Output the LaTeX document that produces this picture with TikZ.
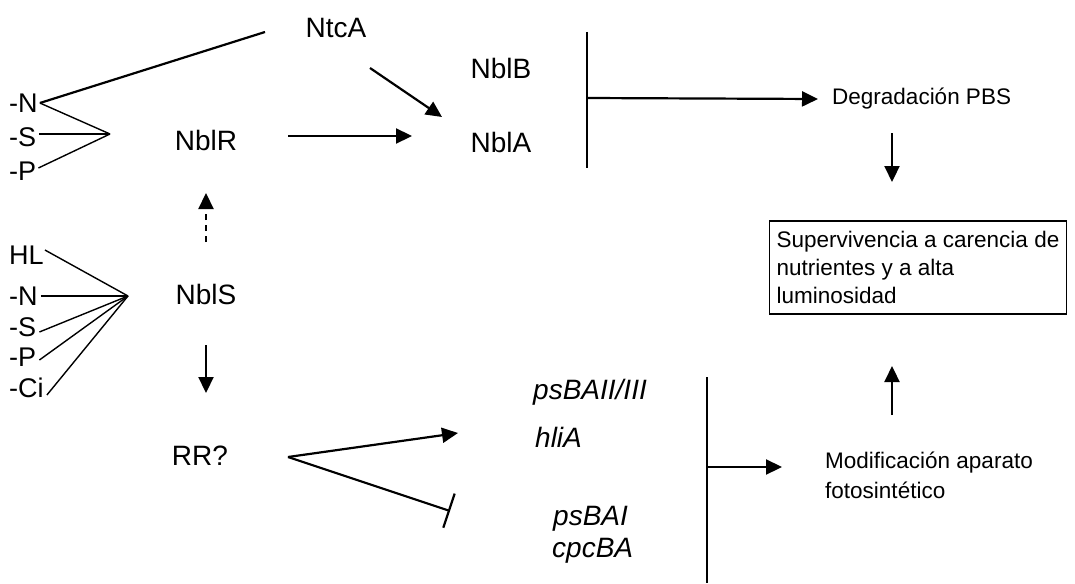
\documentclass[tikz,border=0pt]{standalone}
\usepackage{fontspec}
\setmainfont{Liberation Sans}
\usetikzlibrary{arrows.meta}
\begin{document}
\begin{tikzpicture}[x=1pt,y=-1pt,
  big/.style={font=\fontsize{28}{32}\selectfont, inner sep=0pt},
  side/.style={font=\fontsize{27}{30}\selectfont, inner sep=0pt, anchor=west},
  small/.style={font=\fontsize{22.5}{30}\selectfont, inner sep=0pt, align=left},
  gene/.style={font=\fontsize{28}{32}\selectfont\itshape, inner sep=0pt, anchor=west},
  act/.style={line width=2.2pt, -{Triangle[length=16pt,width=15pt]}},
  block/.style={line width=2.2pt, -{Bar[width=36pt,line width=2.2pt]}},
  fan/.style={line width=1.4pt},
  bus/.style={line width=1.8pt},
  box/.style={draw, line width=1.4pt, minimum width=297pt, minimum height=93pt,
              inner sep=0pt, align=left, font=\fontsize{22.5}{28}\selectfont}]
\useasboundingbox (0,0) rectangle (1075,583);

% main regulators
\node[big] (ntca) at (336,28) {NtcA};
\node[big] (nblr) at (206,140) {NblR};
\node[big] (nbls) at (206,294) {NblS};
\node[big] (rr)   at (200,456) {RR?};
\node[big] (nblb) at (501,68)  {NblB};
\node[big] (nbla) at (501,142) {NblA};

% stress signals acting on NblR / NtcA
\node[side] (n1) at (9,103) {-N};
\node[side] (s1) at (9,137) {-S};
\node[side] (p1) at (9,171) {-P};
\coordinate (v1) at (110,134);
\coordinate (ntcaend) at (265,32);
\draw[line width=2.2pt] ([xshift=2pt]n1.east) -- (ntcaend);
\draw[fan] ([xshift=2pt]n1.east) -- (v1);
\draw[fan] ([xshift=3pt,yshift=3pt]s1.east) -- (v1);
\draw[fan] ([xshift=2pt,yshift=3pt]p1.east) -- (v1);

% stress signals acting on NblS
\node[side] (hl) at (9,255) {HL};
\node[side] (n2) at (9,296) {-N};
\node[side] (s2) at (9,327) {-S};
\node[side] (p2) at (9,357) {-P};
\node[side] (c2) at (9,388) {-Ci};
\coordinate (v2) at (128,296);
\draw[fan] ([xshift=1pt,yshift=5pt]hl.east) -- (v2);
\draw[fan] ([xshift=3pt]n2.east) -- (v2);
\draw[fan] ([xshift=3pt,yshift=-5pt]s2.east) -- (v2);
\draw[fan] ([xshift=3pt,yshift=-3pt]p2.east) -- (v2);
\draw[fan] ([xshift=3pt,yshift=-7pt]c2.east) -- (v2);

% NblS -> NblR (dashed), NblS -> RR?
\coordinate (dsA) at (206,242);
\coordinate (dsB) at (206,193);
\draw[act, dash pattern=on 6pt off 5pt] (dsA) -- (dsB);
\coordinate (rrA) at (206,345);
\coordinate (rrB) at (206,393);
\draw[act] (rrA) -- (rrB);

% activation of nblA
\coordinate (ntA) at (370,68);
\coordinate (ntB) at (442,117);
\draw[act] (ntA) -- (ntB);
\coordinate (nrA) at (288,136);
\coordinate (nrB) at (412,136);
\draw[act] (nrA) -- (nrB);

% NblA/NblB -> phycobilisome degradation
\coordinate (b1top) at (587,32);
\coordinate (b1bot) at (587,168);
\coordinate (b1mid) at (587,98);
\draw[bus] (b1top) -- (b1bot);
\node[small, anchor=west] (deg) at (832,99) {Degradación PBS};
\draw[act] (b1mid) -- ([xshift=-14pt]deg.west);
\coordinate (dgA) at (892,133);
\coordinate (dgB) at (892,182);
\draw[act] (dgA) -- (dgB);

% outcome
\node[box] (surv) at (918,267.5) {Supervivencia a carencia de\\nutrientes y a alta\\luminosidad};

% RR? targets
\coordinate (rrv) at (288,457);
\coordinate (rrup) at (458,433);
\coordinate (rrdn) at (450,511);
\draw[act] (rrv) -- (rrup);
\draw[block] (rrv) -- (rrdn);
\node[gene] (g1) at (533,392) {psBAII/III};
\node[gene] (g2) at (535,437) {hliA};
\node[gene] (g3) at (553,519) {psBAI};
\node[gene] (g4) at (552,551) {cpcBA};

% photosynthetic apparatus
\coordinate (b2top) at (707,377);
\coordinate (b2bot) at (707,583);
\coordinate (b2mid) at (707,467);
\draw[bus] (b2top) -- (b2bot);
\node[small, anchor=west] (mod) at (825,475) {Modificación aparato\\fotosintético};
\draw[act] (b2mid) -- ([xshift=-43pt]mod.west |- b2mid);
\coordinate (mdA) at (892,415);
\coordinate (mdB) at (892,366);
\draw[act] (mdA) -- (mdB);
\end{tikzpicture}
\end{document}
